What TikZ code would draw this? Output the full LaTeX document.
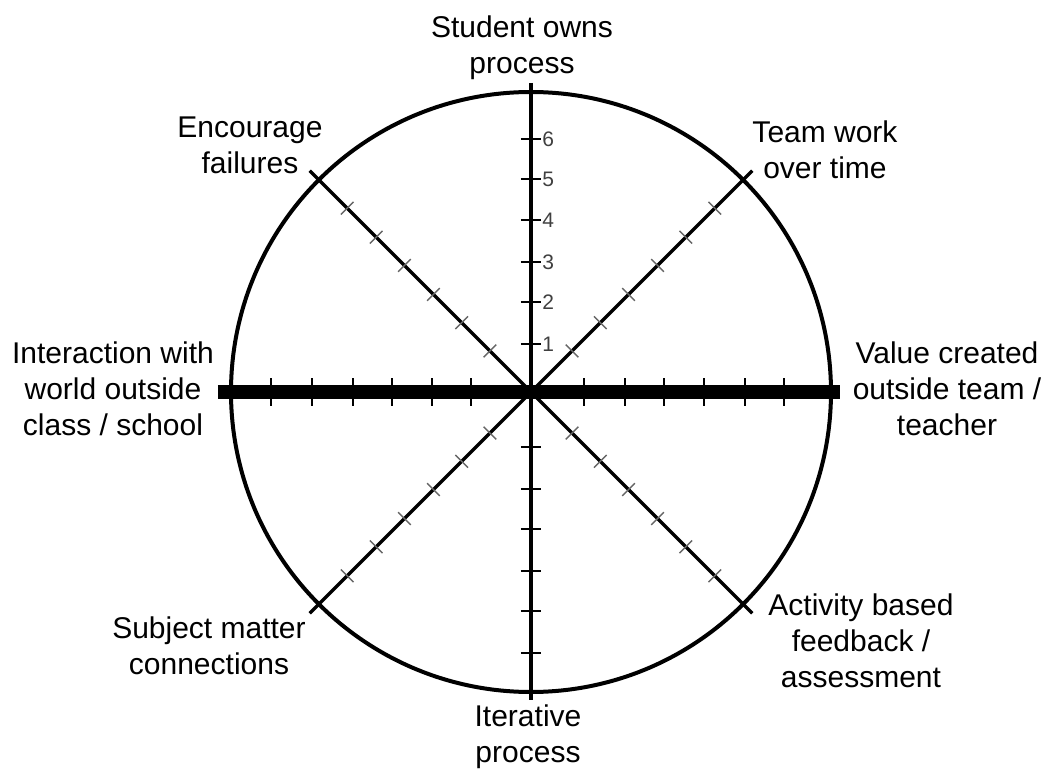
\documentclass[tikz,border=0pt]{standalone}
\usepackage{fontspec}
\setmainfont{Liberation Sans}
\begin{document}
\begin{tikzpicture}[x=0.5pt, y=0.5pt,
	lbl/.style={align=center, inner sep=0pt, font=\fontsize{15}{18}\selectfont},
	num/.style={anchor=west, inner sep=0pt, text=black!75, font=\fontsize{10.5}{12}\selectfont},
	axis/.style={line width=1.6pt},
	htick/.style={line width=0.7pt},
	vtick/.style={line width=0.9pt},
	dtick/.style={line width=0.7pt, color=black!60}]
\useasboundingbox (-531,-379) rectangle (514,392);
\coordinate (center) at (0,0);

\draw [line width=2pt] (center) circle [radius=300];

% the four slanted axes
\foreach \a in {45,135,225,315}
	\draw [axis] (center) -- ++(\a:313);
\draw [axis] (center) ++(0,309) -- ++(0,-617);
\draw [line width=7pt] (center) ++(-313,0) -- ++(622,0);

% ticks on the axes
\foreach \d [count=\i] in {48,90,130,172,213,253}{
	\draw [vtick] (center) ++(-10,\d) -- ++(20,0);
	\path (center) ++(11,\d) node[num] (n\i) {\i};
}
\foreach \d in {55,97,137,179,219,261}
	\draw [vtick] (center) ++(-10,-\d) -- ++(20,0);
\foreach \d in {53,94,133,173,214,253}
	\draw [htick] (center) ++(\d,-14) -- ++(0,28);
\foreach \d in {60,99,139,178,219,260}
	\draw [htick] (center) ++(-\d,-14) -- ++(0,28);
\foreach \a in {45,135,225,315}
	\foreach \d in {58,98,138,179,219,260}
		\draw [dtick] (center) ++(\a:\d) ++(\a+90:9) -- ++(\a-90:18);

% labels round the circle
\path (center) ++(-9,344) node[lbl] (owns) {Student owns\\process};
\path (center) ++(294,242) node[lbl] (team) {Team work\\over time};
\path (center) ++(416,3) node[lbl] (value) {Value created\\outside team /\\teacher};
\path (center) ++(330,-249) node[lbl] (activity) {Activity based\\feedback /\\assessment};
\path (center) ++(-3,-345) node[lbl] (iter) {Iterative\\process};
\path (center) ++(-322,-254) node[lbl] (subject) {Subject matter\\connections};
\path (center) ++(-418,3) node[lbl] (world) {Interaction with\\world outside\\class / school};
\path (center) ++(-281,247) node[lbl] (fail) {Encourage\\failures};
\end{tikzpicture}
\end{document}
